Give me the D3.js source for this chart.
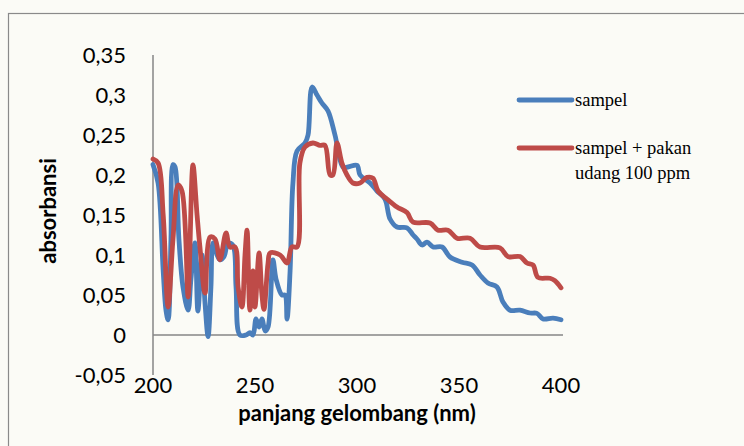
<!DOCTYPE html>
<html>
<head>
<meta charset="utf-8">
<style>
  body { margin: 0; background: #fbfbf6; }
  svg { display: block; }
  .tick-label { font-family: Lato, "Open Sans", sans-serif; font-size: 22px; fill: #000; }
  .axis-title { font-family: Lato, "Open Sans", sans-serif; font-size: 22px; font-weight: bold; fill: #000; }
  .legend-text { font-family: "Liberation Serif", "DejaVu Serif", serif; font-size: 18.5px; fill: #000; }
</style>
</head>
<body>
<div id="chart"></div>
<script src="https://cdn.jsdelivr.net/npm/d3@7"></script>
<script>
const width = 744;
const height = 446;

// wavelength (nm) / absorbance pairs
const sampelNm = [200, 202.5, 205, 206.4, 207.4, 208.8, 209.8, 210.8, 212.7, 214.7, 217.2, 218.6, 220.6, 222, 224, 225.5, 227, 228.4, 229.4, 231.4, 232.8, 234.8, 236.8, 239.2, 240.7, 242.6, 245.6, 247.5, 249, 250.5, 252, 253.4, 255, 256.4, 258.8, 260.3, 263.2, 264.7, 265.7, 267.2, 268.6, 270.6, 274.5, 276, 278, 280.4, 282.8, 285.8, 289.2, 293.1, 295.6, 300, 301.5, 306.4, 309.8, 313.7, 316.2, 319.6, 324.5, 327.5, 329.4, 331.9, 334.3, 337.3, 341.7, 345.6, 351.5, 356.4, 360.3, 364.2, 368.6, 371.6, 375, 379.9, 384.8, 388.2, 391.2, 396.1, 400];
const sampelAbs = [0.213, 0.19, 0.08, 0.03, 0.019, 0.12, 0.213, 0.21, 0.12, 0.06, 0.031, 0.07, 0.115, 0.03, 0.10, 0.04, -0.002, 0.06, 0.115, 0.10, 0.094, 0.098, 0.115, 0.112, 0.06, 0.0, 0.0, 0.003, 0.0, 0.02, 0.01, 0.02, 0.005, 0.01, 0.094, 0.07, 0.05, 0.05, 0.02, 0.08, 0.19, 0.23, 0.24, 0.25, 0.31, 0.30, 0.29, 0.28, 0.25, 0.21, 0.21, 0.212, 0.20, 0.19, 0.18, 0.17, 0.145, 0.135, 0.134, 0.125, 0.12, 0.1125, 0.116, 0.11, 0.11, 0.0975, 0.091, 0.0875, 0.075, 0.065, 0.06, 0.041, 0.031, 0.031, 0.0275, 0.027, 0.02, 0.021, 0.019];

const pakanNm = [200, 202.5, 205, 207.4, 209.8, 212.3, 214.2, 217.2, 218, 219.6, 221.6, 223, 225.5, 228, 230.4, 232.8, 235.8, 237.7, 240.2, 241.7, 243.6, 245.1, 246.1, 247.5, 249, 250, 252, 253.4, 254.4, 256.4, 257.4, 262.3, 265.7, 268.1, 270.6, 272, 274.5, 278.4, 281.9, 284.3, 286.8, 288.2, 290.2, 292.6, 295.1, 298, 301.5, 304.9, 307.8, 310.3, 314.7, 319.6, 324.5, 327.5, 335.8, 339.7, 344.6, 349, 355.4, 360.3, 370.1, 374, 379.9, 383.3, 386.3, 388.7, 394.6, 397, 400];
const pakanAbs = [0.22, 0.215, 0.15, 0.035, 0.12, 0.1875, 0.18, 0.0475, 0.1, 0.2125, 0.15, 0.11, 0.0525, 0.1225, 0.12, 0.094, 0.1275, 0.11, 0.11, 0.06, 0.035, 0.10, 0.131, 0.031, 0.08, 0.035, 0.1025, 0.05, 0.032, 0.09, 0.1025, 0.10, 0.09, 0.11, 0.11, 0.215, 0.235, 0.24, 0.237, 0.237, 0.20, 0.20, 0.24, 0.215, 0.20, 0.19, 0.19, 0.197, 0.196, 0.18, 0.17, 0.16, 0.153, 0.141, 0.14, 0.131, 0.131, 0.121, 0.121, 0.11, 0.109, 0.098, 0.098, 0.09, 0.0875, 0.072, 0.071, 0.068, 0.059];

const xTicks = [200, 250, 300, 350, 400];
const yTicks = [-0.05, 0, 0.05, 0.1, 0.15, 0.2, 0.25, 0.3, 0.35];

const seriesNames = ["sampel", "sampel + pakan\nudang 100 ppm"];
const seriesColors = ["#4a7ebb", "#be4b48"];

const svg = d3.select("#chart")
    .append("svg")
    .attr("width", width)
    .attr("height", height);

// chart frame (runs off the picture at right and bottom)
svg.append("rect")
    .attr("x", 8.5).attr("y", 13.5)
    .attr("width", 800).attr("height", 500)
    .attr("fill", "#fbfbf6")
    .attr("stroke", "#8a8a8a")
    .attr("stroke-width", 1.2);

const x = d3.scaleLinear().domain([200, 400]).range([153, 561]);
const y = d3.scaleLinear().domain([-0.05, 0.35]).range([375, 55]);

// decimal comma and plain hyphen, as in the original
const fmt = v => String(+v.toFixed(2)).replace(".", ",");

// axis lines
svg.append("line")
    .attr("x1", x(200)).attr("x2", x(200))
    .attr("y1", y(0.35)).attr("y2", y(-0.05))
    .attr("stroke", "#868686").attr("stroke-width", 1.5);
svg.append("line")
    .attr("x1", x(200)).attr("x2", x(400) + 2)
    .attr("y1", y(0)).attr("y2", y(0))
    .attr("stroke", "#868686").attr("stroke-width", 1.5);

// y tick labels
svg.selectAll(".ylab")
    .data(yTicks)
    .join("text")
    .attr("class", "tick-label")
    .attr("x", 126)
    .attr("y", d => y(d))
    .attr("dy", "0.36em")
    .attr("text-anchor", "end")
    .text(d => fmt(d));

// x tick labels
svg.selectAll(".xlab")
    .data(xTicks)
    .join("text")
    .attr("class", "tick-label")
    .attr("x", d => x(d))
    .attr("y", 385)
    .attr("dy", "0.36em")
    .attr("text-anchor", "middle")
    .text(d => d);

// axis titles
svg.append("text")
    .attr("class", "axis-title")
    .attr("x", 357).attr("y", 413)
    .attr("dy", "0.36em")
    .attr("text-anchor", "middle")
    .text("panjang gelombang (nm)");

svg.append("text")
    .attr("class", "axis-title")
    .attr("transform", "translate(48,211) rotate(-90)")
    .attr("dy", "0.36em")
    .attr("text-anchor", "middle")
    .text("absorbansi");

// lines
const line = d3.line()
    .x(d => x(d[0]))
    .y(d => y(d[1]))
    .curve(d3.curveCatmullRom.alpha(0.5));

const series = [
    d3.zip(sampelNm, sampelAbs),
    d3.zip(pakanNm, pakanAbs)
];

series.forEach((s, i) => {
    svg.append("path")
        .datum(s)
        .attr("fill", "none")
        .attr("stroke", seriesColors[i])
        .attr("stroke-width", 4.8)
        .attr("stroke-linejoin", "round")
        .attr("stroke-linecap", "round")
        .attr("d", line);
});

// legend
const legendY = [100, 148];
seriesNames.forEach((name, i) => {
    svg.append("line")
        .attr("x1", 519).attr("x2", 572)
        .attr("y1", legendY[i]).attr("y2", legendY[i])
        .attr("stroke", seriesColors[i])
        .attr("stroke-width", 4.8)
        .attr("stroke-linecap", "round");
    const t = svg.append("text")
        .attr("class", "legend-text")
        .attr("x", 575)
        .attr("y", legendY[i]);
    name.split("\n").forEach((part, j) => {
        t.append("tspan")
            .attr("x", 575)
            .attr("dy", j === 0 ? "0.33em" : 25)
            .text(part);
    });
});
</script>
</body>
</html>
